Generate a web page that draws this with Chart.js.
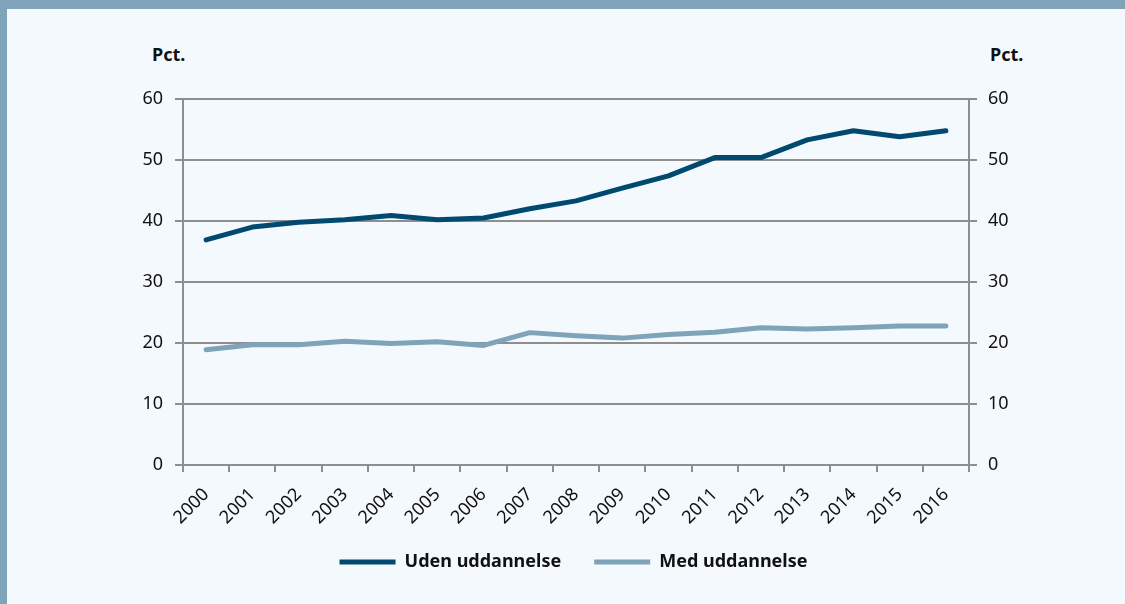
<!DOCTYPE html>
<html>
<head>
<meta charset="utf-8">
<script src="https://cdn.jsdelivr.net/npm/chart.js@4.4.0/dist/chart.umd.min.js"></script>
<style>
  body { margin: 0; width: 1125px; height: 604px; background: #f4f9fd; overflow: hidden; font-family: "Noto Sans", sans-serif; }
  #topbar { position: absolute; left: 0; top: 0; width: 1125px; height: 9px; background: #7fa3b8; }
  #leftbar { position: absolute; left: 0; top: 0; width: 7px; height: 604px; background: #7fa3b8; }
  .unit { position: absolute; top: 42px; font-weight: bold; font-size: 18px; color: #111; }
  #Cnvs1 { position: absolute; left: 0; top: 0; }
</style>
</head>
<body>
<div id="topbar"></div>
<div id="leftbar"></div>
<div class="unit" style="left:152px;">Pct.</div>
<div class="unit" style="left:990px;">Pct.</div>
<canvas id="Cnvs1" width="1125" height="604"></canvas>
<script>
var years = ['2000','2001','2002','2003','2004','2005','2006','2007','2008','2009','2010','2011','2012','2013','2014','2015','2016'];
var uden_uddannelse = [36.9, 39.0, 39.8, 40.2, 40.9, 40.2, 40.5, 42.0, 43.3, 45.4, 47.4, 50.4, 50.4, 53.3, 54.8, 53.8, 54.8];
var med_uddannelse = [18.9, 19.7, 19.7, 20.3, 19.9, 20.2, 19.6, 21.7, 21.2, 20.8, 21.4, 21.75, 22.5, 22.3, 22.5, 22.8, 22.8];
var yMin = 0, yMax = 60, yStep = 10;

var gridColor = '#8e8e8e';
var tickFont = { family: 'Noto Sans', size: 18 };

var data = {
  labels: years,
  datasets: [
    { label: 'Uden uddannelse', data: uden_uddannelse, borderColor: '#00496f', backgroundColor: '#00496f',
      borderWidth: 5, pointRadius: 0, borderCapStyle: 'round', borderJoinStyle: 'round', tension: 0, yAxisID: 'y' },
    { label: 'Med uddannelse', data: med_uddannelse, borderColor: '#7fa3b8', backgroundColor: '#7fa3b8',
      borderWidth: 5, pointRadius: 0, borderCapStyle: 'round', borderJoinStyle: 'round', tension: 0, yAxisID: 'y' }
  ]
};

// legend sits closer to the axis labels and centred under the plot, like the original
var legendShift = {
  id: 'legendShift',
  afterLayout: function(chart) {
    var lg = chart.legend;
    lg.top -= 23; lg.bottom -= 23;
    lg.left += 11; lg.right += 11;
  }
};

var option = {
  responsive: false,
  animation: false,
  layout: { padding: { top: 99, left: 0, right: 0, bottom: 0 } },
  plugins: {
    tooltip: { enabled: false },
    legend: {
      position: 'bottom',
      labels: {
        usePointStyle: true, pointStyle: 'line', pointStyleWidth: 56,
        color: '#111', padding: 33,
        font: { family: 'Noto Sans', size: 18, weight: 'bold' }
      }
    }
  },
  scales: {
    x: {
      offset: true,
      grid: { offset: true, drawOnChartArea: false, tickLength: 7, color: gridColor, lineWidth: 2 },
      border: { color: gridColor, width: 2 },
      ticks: { color: '#111', font: { family: 'Noto Sans', size: 18 }, minRotation: 45, maxRotation: 45, autoSkip: false, padding: 12 },
      afterFit: function(scale) { scale.height = 78; }
    },
    y: {
      position: 'left', min: yMin, max: yMax,
      grid: { color: gridColor, lineWidth: 2, tickLength: 8 },
      border: { color: gridColor, width: 2 },
      ticks: { stepSize: yStep, color: '#111', font: tickFont, padding: 12 },
      afterFit: function(scale) { scale.width = 183; }
    },
    y2: {
      position: 'right', min: yMin, max: yMax,
      grid: { drawOnChartArea: false, color: gridColor, lineWidth: 2, tickLength: 8 },
      border: { color: gridColor, width: 2 },
      ticks: { stepSize: yStep, color: '#111', font: tickFont, padding: 11 },
      afterFit: function(scale) { scale.width = 156; }
    }
  }
};

var Cnvs = document.getElementById('Cnvs1').getContext('2d');
var lineChart = new Chart(Cnvs, {
  type: 'line',
  data: data,
  options: option,
  plugins: [legendShift]
});
</script>
</body>
</html>
